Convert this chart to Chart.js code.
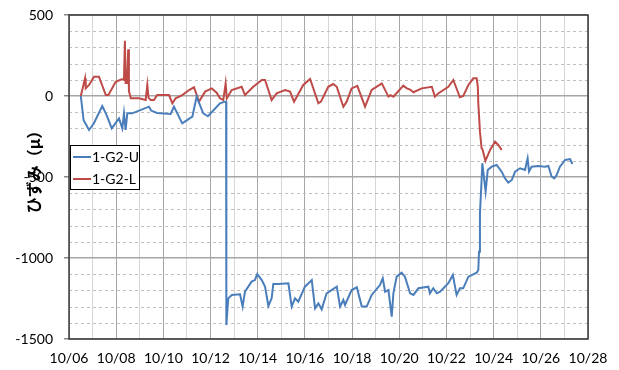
<!DOCTYPE html>
<html><head><meta charset="utf-8">
<script src="https://cdn.jsdelivr.net/npm/chart.js@4.4.1/dist/chart.umd.min.js"></script>
<style>html,body{margin:0;padding:0;background:#fff;}#wrap{width:619px;height:370px;position:relative;}</style>
</head><body><div id="wrap"><canvas id="c" width="619" height="370"></canvas></div>
<script>
// x values are days elapsed since 10/06
const dateLabels = ['10/06','10/08','10/10','10/12','10/14','10/16','10/18','10/20','10/22','10/24','10/26','10/28'];
const seriesNames = ['1-G2-U', '1-G2-L'];
const yAxisTitle = 'ひずみ（μ）';

const uDays = [0.50,0.62,0.85,1.05,1.41,1.60,1.81,2.12,2.26,2.33,2.40,2.47,2.68,3.39,3.48,3.73,4.31,4.45,4.60,4.80,5.23,5.41,5.69,5.89,6.40,6.61,6.66,6.67,6.75,6.90,7.25,7.36,7.46,7.74,7.88,7.98,8.17,8.31,8.45,8.59,8.66,8.87,9.30,9.44,9.58,9.72,10.00,10.29,10.43,10.57,10.71,10.92,11.35,11.49,11.63,11.70,11.98,12.20,12.41,12.62,12.83,13.18,13.30,13.40,13.54,13.68,13.75,13.89,14.10,14.24,14.46,14.60,14.81,15.23,15.30,15.44,15.59,15.73,16.08,16.27,16.43,16.57,16.71,16.93,17.28,17.35,17.38,17.42,17.49,17.52,17.66,17.75,17.92,18.13,18.34,18.48,18.62,18.77,18.91,19.12,19.33,19.44,19.50,19.61,19.89,20.18,20.32,20.46,20.57,20.67,20.81,21.03,21.24,21.34];
const uStrain = [0,-150,-210,-170,-62,-120,-200,-138,-200,-107,-210,-107,-107,-66,-90,-105,-111,-66,-110,-169,-127,-4,-107,-125,-45,-35,-35,-1414,-1249,-1228,-1224,-1300,-1208,-1146,-1136,-1099,-1136,-1177,-1296,-1249,-1160,-1160,-1156,-1300,-1249,-1270,-1177,-1136,-1311,-1280,-1317,-1218,-1177,-1300,-1259,-1290,-1198,-1181,-1300,-1300,-1228,-1167,-1125,-1208,-1198,-1362,-1218,-1115,-1091,-1115,-1218,-1228,-1187,-1177,-1218,-1187,-1218,-1208,-1156,-1105,-1228,-1187,-1187,-1115,-1091,-1074,-961,-724,-518,-415,-590,-457,-436,-426,-467,-508,-535,-518,-467,-446,-457,-385,-467,-436,-432,-436,-432,-498,-508,-488,-436,-395,-389,-420];

const lDays = [0.50,0.68,0.71,0.85,1.06,1.27,1.56,1.67,1.98,2.23,2.33,2.37,2.40,2.46,2.51,2.54,2.62,2.97,3.25,3.32,3.37,3.46,3.60,3.74,4.24,4.38,4.52,4.80,5.09,5.30,5.51,5.77,6.05,6.26,6.40,6.54,6.64,6.69,6.90,7.32,7.46,7.81,8.17,8.31,8.59,8.80,9.16,9.37,9.54,9.93,10.22,10.57,10.68,10.99,11.20,11.35,11.63,11.77,11.98,12.22,12.55,12.83,13.26,13.54,13.63,13.75,14.17,14.32,14.46,14.60,14.95,15.38,15.51,15.65,16.08,16.29,16.57,16.71,16.93,17.14,17.28,17.33,17.35,17.42,17.49,17.53,17.65,17.85,18.06,18.20,18.34];
const lStrain = [0,109,47,68,119,119,6,6,88,103,100,341,80,80,288,30,-14,-14,-25,68,-10,-25,-25,6,6,-45,-14,6,37,54,-35,27,47,20,-14,-25,78,-14,37,57,6,57,99,99,-25,16,37,27,-35,68,105,-45,-35,57,74,57,-66,-35,47,62,-66,37,78,-4,5,-4,64,47,40,23,47,57,-4,16,57,99,-8,0,68,109,109,57,-45,-220,-323,-330,-400,-333,-282,-302,-333];

const colors = ['#4a7ebb', '#be4b48'];
const FONT = 'Lato, "Open Sans", sans-serif';

function pts(xs, ys){ return xs.map((x,i)=>({x:x, y:ys[i]})); }

const extras = {
  id: 'extras',
  beforeDatasetsDraw(chart){
    const {ctx, chartArea:a, scales:{y}} = chart;
    ctx.save();
    ctx.strokeStyle = '#bfbfbf'; ctx.lineWidth = 1; ctx.setLineDash([3,3]);
    for (let v = -1400; v <= 400; v += 100){
      if (v % 500 === 0) continue;
      const py = Math.round(y.getPixelForValue(v)) + 0.5;
      ctx.beginPath(); ctx.moveTo(a.left, py); ctx.lineTo(a.right, py); ctx.stroke();
    }
    ctx.restore();
  },
  afterDraw(chart){
    const {ctx, chartArea:a} = chart;
    ctx.save();
    ctx.strokeStyle = '#3a3a3a'; ctx.lineWidth = 1.5;
    ctx.strokeRect(a.left, a.top, a.right - a.left, a.bottom - a.top);
    ctx.translate(34, 168); ctx.rotate(-Math.PI/2);
    ctx.fillStyle = '#000'; ctx.font = 'bold 16px "Noto Sans CJK JP"';
    ctx.textAlign = 'center'; ctx.textBaseline = 'middle';
    ctx.fillText(yAxisTitle, 0, 0);
    ctx.restore();
    ctx.save();
    const lx = 70, ly = 145, lw = 69, lh = 44;
    ctx.fillStyle = '#fff'; ctx.fillRect(lx, ly, lw, lh);
    ctx.strokeStyle = '#000'; ctx.lineWidth = 1;
    ctx.strokeRect(lx + 0.5, ly + 0.5, lw, lh);
    ctx.font = '14px ' + FONT; ctx.textBaseline = 'middle'; ctx.fillStyle = '#000';
    chart.data.datasets.forEach((ds, i) => {
      const ry = ly + 12 + i * 22;
      ctx.strokeStyle = ds.borderColor; ctx.lineWidth = 2;
      ctx.beginPath(); ctx.moveTo(lx + 3, ry); ctx.lineTo(lx + 21, ry); ctx.stroke();
      ctx.fillText(ds.label, lx + 22, ry);
    });
    ctx.restore();
  }
};

new Chart(document.getElementById('c'), {
  type: 'line',
  data: {
    datasets: [
      {label: seriesNames[0], data: pts(uDays, uStrain), borderColor: colors[0], backgroundColor: colors[0], borderWidth: 2, pointRadius: 0, tension: 0},
      {label: seriesNames[1], data: pts(lDays, lStrain), borderColor: colors[1], backgroundColor: colors[1], borderWidth: 2, pointRadius: 0, tension: 0}
    ]
  },
  options: {
    responsive: false, animation: false, devicePixelRatio: 1,
    layout: {autoPadding: false, padding: {left: 0, right: 31, top: 15, bottom: 0}},
    plugins: {legend: {display: false}, tooltip: {enabled: false}},
    scales: {
      x: {
        type: 'linear', min: 0, max: 22,
        afterFit(s){ s.height = 31; s.paddingLeft = 0; s.paddingRight = 0; },
        ticks: {stepSize: 1, autoSkip: false, maxRotation: 0, padding: 11, color: '#000',
          font: {family: FONT, size: 14},
          callback: (v) => (v % 2 === 0 ? dateLabels[v / 2] : '')},
        grid: {drawTicks: false, lineWidth: 1,
          color: (c) => (c.tick && c.tick.value % 2 === 0 ? '#a6a6a6' : '#d6d6d6')},
        border: {display: false}
      },
      y: {
        min: -1500, max: 500,
        afterFit(s){ s.width = 69; s.paddingTop = 0; s.paddingBottom = 0; },
        ticks: {stepSize: 500, padding: 11, color: '#000', font: {family: FONT, size: 14},
          callback: (v) => String(v)},
        grid: {drawTicks: true, tickLength: 5, tickColor: '#888', color: '#a6a6a6', lineWidth: 1.5},
        border: {display: false}
      }
    }
  },
  plugins: [extras]
});
</script></body></html>
